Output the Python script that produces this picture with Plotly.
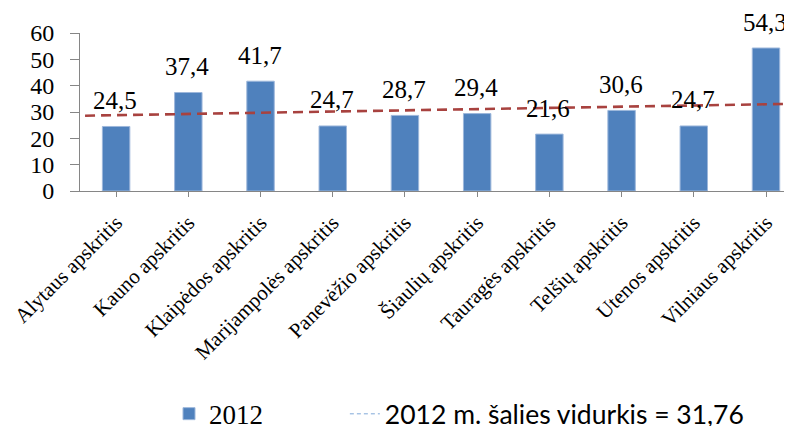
import plotly.graph_objects as go

categories = ["Alytaus apskritis", "Kauno apskritis", "Klaipėdos apskritis",
              "Marijampolės apskritis", "Panevėžio apskritis", "Šiaulių apskritis",
              "Tauragės apskritis", "Telšių apskritis", "Utenos apskritis",
              "Vilniaus apskritis"]
values_2012 = [24.5, 37.4, 41.7, 24.7, 28.7, 29.4, 21.6, 30.6, 24.7, 54.3]
value_labels = ["24,5", "37,4", "41,7", "24,7", "28,7", "29,4", "21,6", "30,6", "24,7", "54,3"]
# dashed reference line (left and right ends, in category units)
trend_x = [-0.43, 9.36]
trend_y = [28.6, 33.1]
y_ticks = [0, 10, 20, 30, 40, 50, 60]
series_name = "2012"
line_name = "2012 m. šalies vidurkis = 31,76"

serif = "Times New Roman"
fig = go.Figure()
fig.add_trace(go.Bar(
    x=list(range(len(categories))), y=values_2012, name=series_name,
    marker=dict(color="#4F81BD", line=dict(color="#9DB7DB", width=1)),
    width=0.38, showlegend=True, legend="legend",
))
fig.add_trace(go.Scatter(
    x=trend_x, y=trend_y, mode="lines", showlegend=False, hoverinfo="skip",
    line=dict(color="#A8423F", width=2.6, dash="10px,6px"),
))
# legend-only entry (thin light-blue dashed line as in the reference legend)
fig.add_trace(go.Scatter(
    x=[None], y=[None], mode="lines", name=line_name, legend="legend2",
    line=dict(color="#7FA8D8", width=1, dash="4px,3px"),
))
for i, (v, t) in enumerate(zip(values_2012, value_labels)):
    fig.add_annotation(x=i, y=v, text=t, showarrow=False, yshift=26, xshift=-1,
                       font=dict(family=serif, size=25, color="black"))

# the page body has an 8px margin, so the figure is 8px smaller and shifted
fig.update_layout(
    width=784, height=418,
    margin=dict(l=72, r=0, t=25, b=235, autoexpand=False),
    plot_bgcolor="white", paper_bgcolor="white",
    font=dict(family=serif),
    legend=dict(orientation="h", x=0.125, xanchor="left", y=-1.412, yanchor="middle",
                font=dict(family=serif, size=27, color="black"), bgcolor="rgba(0,0,0,0)"),
    legend2=dict(orientation="h", x=0.372, xanchor="left", y=-1.412, yanchor="middle",
                 font=dict(family="Lato", size=26.5, color="black"), bgcolor="rgba(0,0,0,0)"),
)
fig.update_xaxes(
    range=[-0.5, 9.36], tickmode="array", tickvals=list(range(len(categories))),
    ticktext=categories, tickangle=-45, tickson="boundaries", automargin=False,
    ticks="outside", ticklen=5, tickcolor="#868686", ticklabelstandoff=5,
    showline=True, linecolor="#868686", linewidth=1, showgrid=False, zeroline=False,
    tickfont=dict(family=serif, size=21, color="black"),
)
fig.update_yaxes(
    range=[0, 60], tickvals=y_ticks, ticks="outside", ticklen=9, tickcolor="#868686",
    ticklabelstandoff=11, automargin=False,
    showline=True, linecolor="#868686", linewidth=1, showgrid=False, zeroline=False,
    tickfont=dict(family=serif, size=24, color="black"),
)
fig.write_html("out.html")
